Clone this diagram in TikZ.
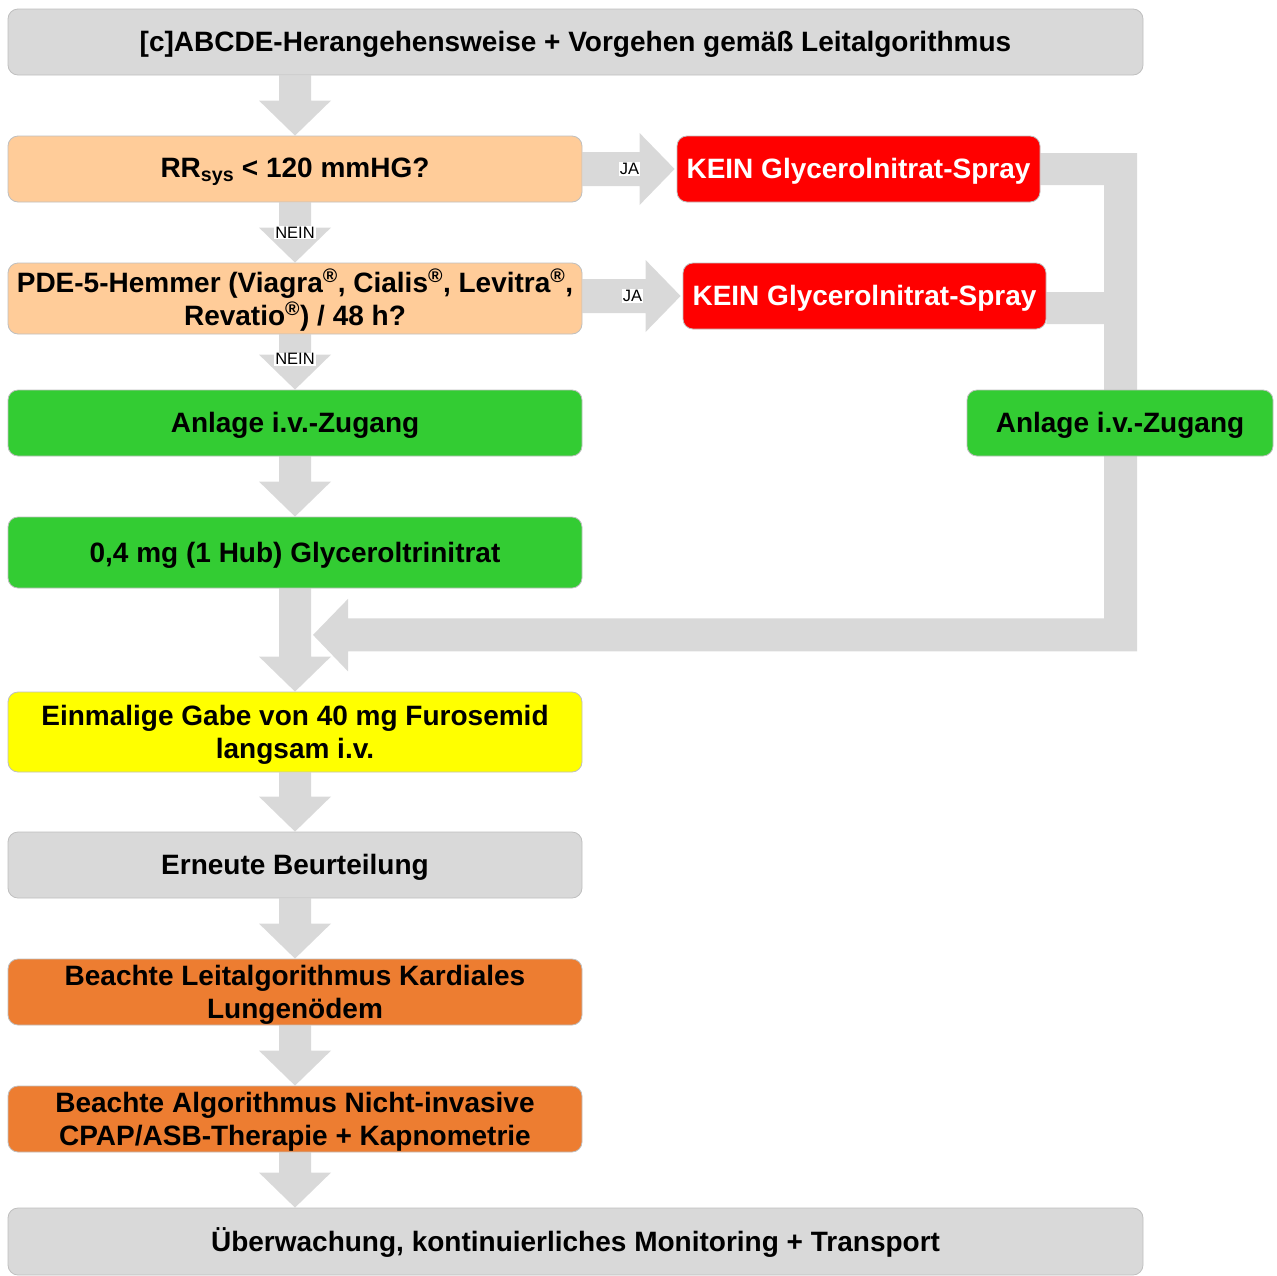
\documentclass[tikz,border=0pt]{standalone}
\usepackage{fontspec}
\setmainfont{Liberation Sans}
\usetikzlibrary{calc,backgrounds}

\definecolor{boxgray}{HTML}{D9D9D9}
\definecolor{edgegray}{HTML}{BFBFBF}
\definecolor{peach}{HTML}{FFCC99}
\definecolor{okgreen}{HTML}{33CC33}
\definecolor{warnred}{HTML}{FF0000}
\definecolor{furoyellow}{HTML}{FFFF00}
\definecolor{deeporange}{HTML}{ED7D31}

\tikzset{
  stepbox/.style={draw=edgegray, line width=0.8pt, rounded corners=10pt,
    minimum width=574pt, minimum height=66pt, align=center, inner sep=2pt,
    font=\bfseries\fontsize{28}{33}\selectfont,
    % line-box struts so text sits like in a word processor
    execute at begin node={\rule[-0.212em]{0pt}{1.117em}},
    execute at end node={\rule[-0.212em]{0pt}{1.117em}}},
  twoline/.style={text height=56pt, text depth=3pt},
  widebox/.style={stepbox, minimum width=1135pt, fill=boxgray},
  stopbox/.style={stepbox, fill=warnred, text=white, minimum width=363pt},
  flowlabel/.style={fill=white, inner sep=1pt, font=\fontsize{16.5}{18}\selectfont},
}

% vertical block arrow from #1 down to #2, centred on the x of #3
\newcommand{\flowdown}[3]{%
  \fill[boxgray] let \p1=(#1.south), \p2=(#2.north), \p3=(#3.center) in
    (\x3-16pt,\y1) -- (\x3+16pt,\y1) -- (\x3+16pt,\y2+35pt) -- (\x3+36pt,\y2+35pt)
    -- (\x3,\y2) -- (\x3-36pt,\y2+35pt) -- (\x3-16pt,\y2+35pt) -- cycle;}
% horizontal block arrow from #1 right to #2, at the height of #2
\newcommand{\flowright}[2]{%
  \fill[boxgray] let \p1=(#1.east), \p2=(#2.west) in
    (\x1,\y2+17pt) -- (\x2-37pt,\y2+17pt) -- (\x2-37pt,\y2+36pt) -- (\x2-2pt,\y2)
    -- (\x2-37pt,\y2-36pt) -- (\x2-37pt,\y2-17pt) -- (\x1,\y2-17pt) -- cycle;}

\begin{document}
\begin{tikzpicture}[x=1pt,y=-1pt]
\useasboundingbox (0,0) rectangle (1277,1275);

% main column
\node[widebox] (start) at (575.5,42) {[c]ABCDE-Herangehensweise + Vorgehen gemäß Leitalgorithmus};
\node[stepbox, fill=peach] (rr) at (295,169) {RR\textsubscript{sys} < 120 mmHG?};
\node[stepbox, twoline, fill=peach, minimum height=71pt] (pde) at (295,298.5)
  {PDE-5-Hemmer (Viagra\textsuperscript{®}, Cialis\textsuperscript{®}, Levitra\textsuperscript{®},\\Revatio\textsuperscript{®}) / 48 h?};
\node[stepbox, fill=okgreen] (ivl) at (295,423) {Anlage i.v.-Zugang};
\node[stepbox, fill=okgreen, minimum height=71pt] (gtn) at (295,552.5) {0,4 mg (1 Hub) Glyceroltrinitrat};
\node[stepbox, twoline, fill=furoyellow, minimum height=80pt] (furo) at (295,732) {Einmalige Gabe von 40 mg Furosemid\\langsam i.v.};
\node[stepbox, fill=boxgray] (reass) at (295,865) {Erneute Beurteilung};
\node[stepbox, twoline, fill=deeporange] (lung) at (295,992) {Beachte Leitalgorithmus Kardiales\\Lungenödem};
\node[stepbox, twoline, fill=deeporange] (cpap) at (295,1119) {Beachte Algorithmus Nicht-invasive\\CPAP/ASB-Therapie + Kapnometrie};
\node[widebox, minimum height=67pt] (mon) at (575.5,1241.5) {Überwachung, kontinuierliches Monitoring + Transport};

% right branch
\node[stopbox] (kein1) at (858.5,169) {KEIN Glycerolnitrat-Spray};
\node[stopbox] (kein2) at (864.5,296) {KEIN Glycerolnitrat-Spray};
\node[stepbox, fill=okgreen, minimum width=306pt] (ivr) at (1120,423) {Anlage i.v.-Zugang};

% bus bar edges and merge point
\coordinate (busL) at (1104,0);
\coordinate (busR) at (1137,0);
\coordinate (merge) at ($(gtn.south)+(18,46.5)$);

\begin{scope}[on background layer]
  \flowdown{start}{rr}{rr}
  \flowdown{rr}{pde}{rr}
  \flowdown{pde}{ivl}{ivl}
  \flowdown{ivl}{gtn}{gtn}
  \flowdown{gtn}{furo}{furo}
  \flowdown{furo}{reass}{reass}
  \flowdown{reass}{lung}{lung}
  \flowdown{lung}{cpap}{cpap}
  \flowdown{cpap}{mon}{cpap}
  \flowright{rr}{kein1}
  \flowright{pde}{kein2}
  % return path from both stop boxes back into the main column
  \fill[boxgray]
    ($(kein1.east)+(0,-16)$) -- ($(busR |- kein1.east)+(0,-16)$)
    -- ($(busR |- merge)+(0,16.5)$) -- ($(merge)+(35,16.5)$)
    -- ($(merge)+(35,36.5)$) -- (merge) -- ($(merge)+(35,-36)$)
    -- ($(merge)+(35,-16.5)$) -- ($(busL |- merge)+(0,-16.5)$)
    -- ($(busL |- kein2.east)+(0,28)$) -- ($(kein2.east)+(0,28)$)
    -- ($(kein2.east)+(0,-4)$) -- ($(busL |- kein2.east)+(0,-4)$)
    -- ($(busL |- kein1.east)+(0,16)$) -- ($(kein1.east)+(0,16)$) -- cycle;
\end{scope}

% branch labels
\node[flowlabel] (nein1) at ($(rr.south)!0.5!(pde.north)$) {NEIN};
\node[flowlabel] (nein2) at ($(pde.south)!0.45!(ivl.north)$) {NEIN};
\node[flowlabel] (ja1) at ($(rr.east)!0.5!(kein1.west)$) {JA};
\node[flowlabel] (ja2) at ($(pde.east -| kein2.west)!0.5!(pde.east)+(0,-2.5)$) {JA};
\end{tikzpicture}
\end{document}
